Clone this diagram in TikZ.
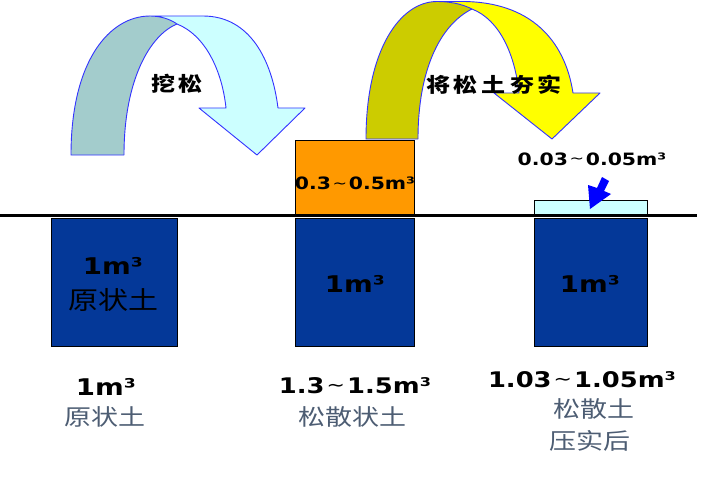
\documentclass[tikz,border=0pt]{standalone}
\usepackage{fontspec}
\newfontfamily\cjk{Noto Sans CJK SC}
\newfontfamily\numf{DejaVu Sans}
\newcommand\sx[1]{\scalebox{1.2}[1]{#1}}
\newcommand\tl{\hspace{0.08em}\raisebox{0.08em}{\mdseries\scalebox{0.85}{\textasciitilde}}\hspace{0.08em}}
\definecolor{boxblue}{RGB}{4,56,152}
\definecolor{soilorange}{RGB}{255,153,0}
\definecolor{lcyan}{RGB}{204,255,255}
\definecolor{dteal}{RGB}{163,204,204}
\definecolor{ayellow}{RGB}{255,255,0}
\definecolor{aolive}{RGB}{204,204,0}
\definecolor{aline}{RGB}{51,51,255}
\definecolor{graytxt}{RGB}{77,93,115}
\definecolor{pblue}{RGB}{0,0,255}
\begin{document}
\begin{tikzpicture}[x=1pt,y=-1pt,
  soil/.style={draw=black,line width=0.9pt,inner sep=0,outer sep=0},
  arr/.style={draw=aline,line width=0.9pt,line join=round},
  bignum/.style={inner sep=0,anchor=base,font=\numf\bfseries\fontsize{23}{26}\selectfont},
  mednum/.style={inner sep=0,anchor=base,font=\numf\bfseries\fontsize{21.5}{24}\selectfont},
  smallnum/.style={inner sep=0,anchor=base,font=\numf\bfseries\fontsize{17}{20}\selectfont},
  cjkbox/.style={inner sep=0,font=\cjk\fontsize{25}{28}\selectfont},
  cjkgray/.style={inner sep=0,text=graytxt,font=\cjk\fontsize{22.5}{26}\selectfont},
  callig/.style={inner sep=0,font=\cjk\bfseries\fontsize{20}{22}\selectfont}]
\useasboundingbox (0,0) rectangle (710,487);
% curved arrow 1
\fill[dteal] (71,155) .. controls (71,60) and (110,16) .. (150,16)
  .. controls (160,16) and (170,19) .. (177,24)
  .. controls (150,35) and (124,80) .. (124,155) -- cycle;
\draw[arr] (124,155) -- (71,155) .. controls (71,60) and (110,16) .. (150,16);
\draw[arr] (177,24) .. controls (150,35) and (124,80) .. (124,155);
\filldraw[arr,fill=lcyan] (150,16) -- (203,16) .. controls (250,16) and (272,60) .. (278,108)
  -- (305,108) -- (257,155) -- (199,108) -- (226,108)
  .. controls (222,70) and (205,35) .. (177,24)
  .. controls (170,19) and (160,16) .. (150,16) -- cycle;
% curved arrow 2
\fill[aolive] (366,139) .. controls (366,50) and (400,1.5) .. (437,1.5)
  .. controls (450,1.5) and (462,4) .. (472,9)
  .. controls (440,25) and (418,70) .. (418,139) -- cycle;
\draw[arr] (418,139) -- (366,139) .. controls (366,50) and (400,1.5) .. (437,1.5);
\draw[arr] (472,9) .. controls (440,25) and (418,70) .. (418,139);
\filldraw[arr,fill=ayellow] (437,1.5) -- (462,1.5) .. controls (530,1.5) and (565,40) .. (573,93)
  -- (600,93) -- (552,139) -- (494,93) -- (519,93)
  .. controls (515,55) and (500,20) .. (472,9)
  .. controls (462,4) and (450,1.5) .. (437,1.5) -- cycle;
% arrow labels
\node[callig] (wa) at (177,84) {\sx{挖\,松}};
\node[callig] (jiang) at (494,85) {\sx{将\,松\,土\,夯\,实}};
% soil boxes
\node[soil,fill=boxblue,minimum width=126pt,minimum height=128pt] (b1) at (114,282) {};
\node[soil,fill=boxblue,minimum width=119pt,minimum height=128pt] (b2) at (354.5,282) {};
\node[soil,fill=soilorange,minimum width=119pt,minimum height=75pt] (o2) at (354.5,178) {};
\node[soil,fill=boxblue,minimum width=113pt,minimum height=128pt] (b3) at (590.5,282) {};
\node[soil,fill=lcyan,minimum width=113pt,minimum height=15pt] (c3) at (590.5,208) {};
% ground line
\coordinate (gl) at (0,215.5);
\coordinate (gr) at (697,215.5);
\draw[line width=3.6pt] (gl) -- (gr);
% small blue arrow
\fill[pblue] (602,177) -- (609,181) -- (604,191) -- (611,194) -- (590,209) -- (588,185) -- (597,188) -- cycle;
% texts in boxes
\node[bignum] (t1) at (113,274) {\sx{1m³}};
\node[cjkbox] (t1c) at (113,300) {\sx{原状土}};
\node[bignum] (t2) at (355,292) {\sx{1m³}};
\node[bignum] (t3) at (590,292) {\sx{1m³}};
\node[smallnum] (to) at (355,189.5) {\sx{0.3\tl 0.5m³}};
\node[smallnum] (tc) at (592,165) {\sx{0.03\tl 0.05m³}};
% bottom labels
\node[bignum] (l1) at (106,395) {\sx{1m³}};
\node[cjkgray] (l1c) at (105,417) {\sx{原状土}};
\node[mednum] (l2) at (355,393) {\sx{1.3\tl 1.5m³}};
\node[cjkgray] (l2c) at (352,417) {\sx{松散状土}};
\node[mednum] (l3) at (582,387) {\sx{1.03\tl 1.05m³}};
\node[cjkgray] (l3c) at (594,409) {\sx{松散土}};
\node[cjkgray] (l3d) at (590,441) {\sx{压实后}};
\end{tikzpicture}
\end{document}
